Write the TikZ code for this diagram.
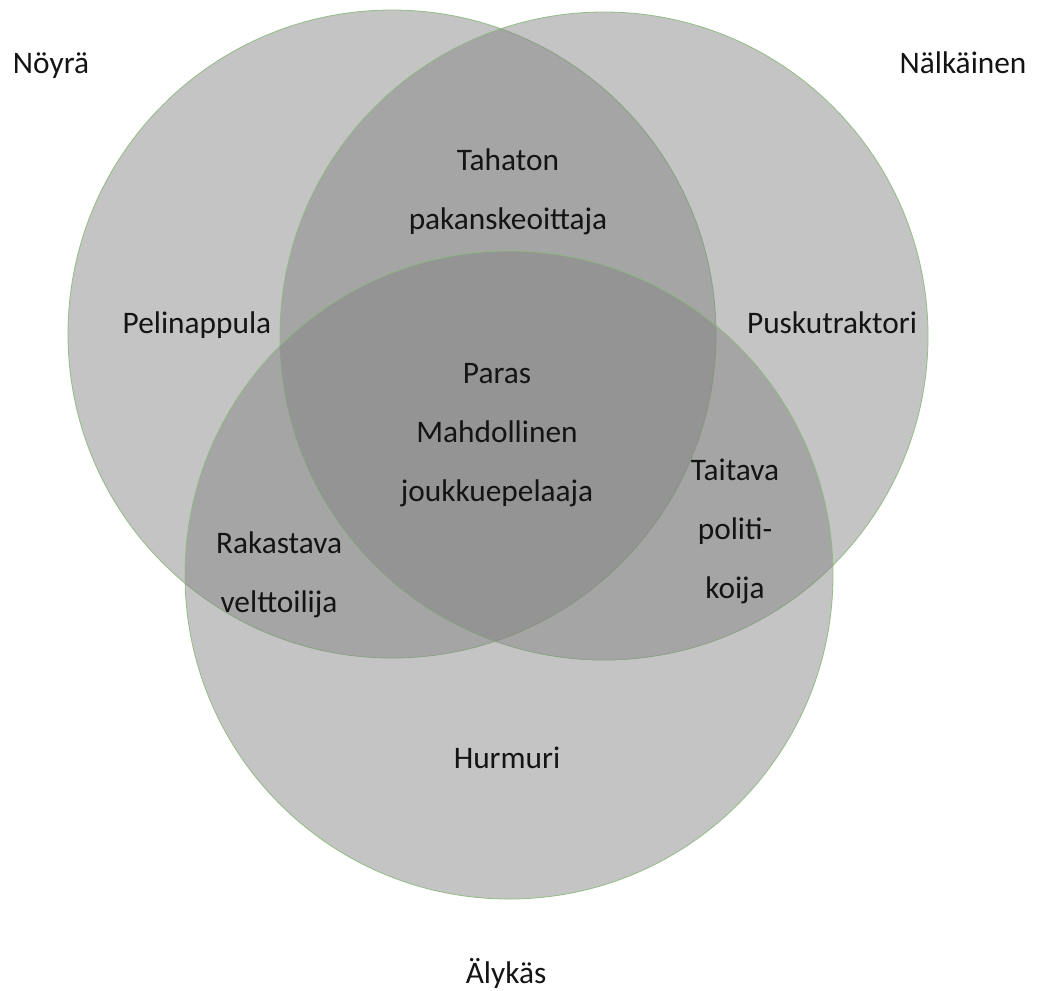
\documentclass[tikz,border=0pt]{standalone}
\usepackage{fontspec}
\setmainfont{Carlito}
\definecolor{vennfill}{RGB}{131,131,131}
\definecolor{vennline}{RGB}{140,185,125}
\definecolor{labeltext}{RGB}{20,20,20}
\tikzset{
  venn/.style={fill=vennfill, fill opacity=0.475, draw=vennline, draw opacity=0.9, line width=0.6pt},
  lbl/.style={anchor=base, inner sep=0pt, text=labeltext, font=\fontsize{23.5}{44.25}\selectfont},
}
\newcommand{\lines}[1]{\begin{tabular}[t]{@{}c@{}}#1\end{tabular}}
\begin{document}
\begin{tikzpicture}[x=0.75pt, y=-0.75pt]
\useasboundingbox (0,0) rectangle (1037,990);
\fill[white] (0,0) rectangle (1037,990);
% circles
\path[venn] (392,334) circle[radius=324];
\path[venn] (604,336) circle[radius=324];
\path[venn] (509,575) circle[radius=324];
% outer labels
\node[lbl] (noyra) at (51,73) {Nöyrä};
\node[lbl] (nalkainen) at (963,73) {Nälkäinen};
\node[lbl] (alykas) at (506,983) {Älykäs};
% region labels
\node[lbl] (tahaton) at (508,170) {\lines{Tahaton\\pakanskeoittaja}};
\node[lbl] (pelinappula) at (197,333) {Pelinappula};
\node[lbl] (puskutraktori) at (832,333) {Puskutraktori};
\node[lbl] (paras) at (497,383) {\lines{Paras\\Mahdollinen\\joukkuepelaaja}};
\node[lbl] (taitava) at (735,480) {\lines{Taitava\\politi-\\koija}};
\node[lbl] (rakastava) at (279,553) {\lines{Rakastava\\velttoilija}};
\node[lbl] (hurmuri) at (507,768) {Hurmuri};
\end{tikzpicture}
\end{document}
